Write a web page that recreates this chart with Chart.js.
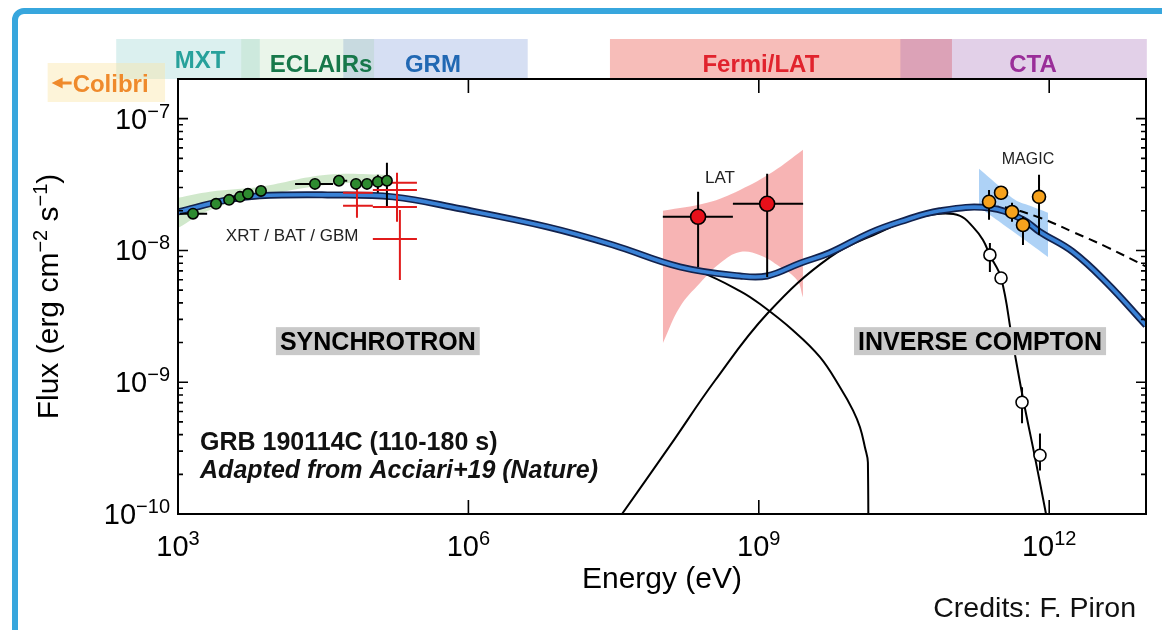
<!DOCTYPE html>
<html>
<head>
<meta charset="utf-8">
<script src="https://cdn.jsdelivr.net/npm/chart.js@4.4.1/dist/chart.umd.min.js"></script>
<style>
  html, body { margin: 0; padding: 0; background: #fff; }
  #wrap { position: relative; width: 1162px; height: 630px; overflow: hidden; background: #fff; }
  #frame { position: absolute; left: 12px; top: 8px; width: 1220px; height: 720px;
           border: 6px solid #37a6dd; border-radius: 12px; box-sizing: border-box; }
  canvas { position: absolute; left: 0; top: 0; }
</style>
</head>
<body>
<div id="wrap"><div id="frame"></div><canvas id="sed" width="1162" height="630"></canvas></div>
<script>
// ---------------- data (energy in eV, flux in erg cm^-2 s^-1) ----------------

// instrument energy coverage shown above the plot
const bandNames = ['MXT', 'ECLAIRs', 'GRM', 'Fermi/LAT', 'CTA'];
const bandLo    = [2.3e2, 4.5e3, 5.1e4, 2.9e7, 2.9e10];
const bandHi    = [7.0e3, 1.06e5, 4.1e6, 9.9e10, 1.02e13];
const bandLabelE = [1.69e3, 3.0e4, 4.3e5, 1.05e9, 6.8e11];
const colibriLo = 45, colibriHi = 735;

// axis decades
const xTickExp = [3, 6, 9, 12];
const yTickExp = [-7, -8, -9, -10];

// total model (synchrotron + inverse Compton)
const modelE = [1e3, 3.2e3, 7.0e3, 3.5e4, 1.66e5, 8.2e5, 6.5e6, 3.12e7, 1.53e8, 6.4e8, 1.22e9,
                2.67e9, 5.4e9, 1.41e10, 2.88e10, 7.4e10, 2.44e11, 5.36e11, 8.03e11, 1.76e12,
                3.95e12, 1e13];
const modelF = [1.96e-8, 2.42e-8, 2.6e-8, 2.64e-8, 2.55e-8, 2.07e-8, 1.51e-8, 1.1e-8, 7.5e-9, 6.4e-9,
                6.4e-9, 8.0e-9, 9.6e-9, 1.36e-8, 1.65e-8, 2.0e-8, 2.1e-8, 1.71e-8, 1.38e-8, 9.75e-9,
                5.66e-9, 2.7e-9];

// synchrotron component
const syncE = [1e3, 3.2e3, 7.0e3, 3.5e4, 1.66e5, 8.2e5, 6.5e6, 3.12e7, 1.53e8, 2.47e8, 6.4e8, 1.03e9,
               2.25e9, 4.29e9, 6.9e9, 9.4e9, 1.11e10, 1.25e10, 1.34e10, 1.341e10];
const syncF = [1.96e-8, 2.42e-8, 2.6e-8, 2.64e-8, 2.55e-8, 2.07e-8, 1.51e-8, 1.09e-8, 7.3e-9, 6.87e-9,
               4.92e-9, 3.92e-9, 2.48e-9, 1.55e-9, 9.16e-10, 6.12e-10, 4.55e-10, 3.2e-10, 2.46e-10, 1e-11];

// inverse Compton component
const icE = [2.29e7, 3.86e7, 1.21e8, 3.53e8, 1.24e9, 5.44e9, 1.79e10, 3.65e10, 7.45e10, 1.2e11, 1.63e11,
             2.07e11, 2.44e11, 3.18e11, 4.13e11, 5.36e11, 7.13e11, 9.27e11, 1.02e12];
const icF = [5.8e-11, 1.0e-10, 3.3e-10, 1.03e-9, 3.35e-9, 8.9e-9, 1.38e-8, 1.71e-8, 1.9e-8, 1.83e-8, 1.51e-8,
             1.2e-8, 9.2e-9, 6.2e-9, 2.16e-9, 7.55e-10, 2.69e-10, 1.0e-10, 6.9e-11];

// intrinsic model without EBL absorption
const intrE = [2.44e11, 3.33e11, 8.03e11, 1.76e12, 3.95e12, 1.02e13];
const intrF = [2.1e-8, 2.14e-8, 1.77e-8, 1.38e-8, 1.06e-8, 7.5e-9];

// XRT spectral band
const xrtBandE  = [1e3, 2.14e3, 7.0e3, 3.46e4, 1.55e5];
const xrtBandHi = [2.51e-8, 2.79e-8, 3.04e-8, 3.75e-8, 3.75e-8];
const xrtBandLo = [1.48e-8, 2.03e-8, 2.55e-8, 3.15e-8, 3.32e-8];

// XRT points
const xrtE   = [1.43e3, 2.47e3, 3.37e3, 4.37e3, 5.28e3, 7.2e3, 2.6e4, 4.6e4, 6.9e4, 8.96e4, 1.16e5, 1.44e5];
const xrtF   = [1.9e-8, 2.26e-8, 2.42e-8, 2.55e-8, 2.69e-8, 2.83e-8, 3.2e-8, 3.38e-8, 3.2e-8, 3.2e-8, 3.32e-8, 3.38e-8];
const xrtElo = [1.05e3, null, null, null, null, null, 1.62e4, 4.0e4, null, null, null, null];
const xrtEhi = [2.0e3, null, null, null, null, null, 4.0e4, 5.6e4, null, null, null, null];
const xrtFlo = [null, null, null, null, null, null, null, null, null, null, 2.74e-8, 2.14e-8];
const xrtFhi = [null, null, null, null, null, null, null, null, null, null, 3.75e-8, 4.63e-8];

// BAT / GBM points
const batE   = [7.06e4, 7.06e4, 1.83e5, 1.83e5, 1.83e5, 1.96e5];
const batF   = [2.74e-8, 2.18e-8, 3.26e-8, 2.88e-8, 2.14e-8, 1.22e-8];
const batElo = [5.07e4, 5.07e4, 1.16e5, 1.03e5, 1.03e5, 1.03e5];
const batEhi = [1.03e5, 1.03e5, 2.94e5, 2.94e5, 2.94e5, 2.94e5];
const batFlo = [2.30e-8, 1.77e-8, 2.79e-8, 2.22e-8, 1.65e-8, 5.97e-9];
const batFhi = [3.04e-8, 2.6e-8, 3.88e-8, 3.43e-8, 2.64e-8, 2.03e-8];

// Fermi-LAT points and butterfly
const latE   = [2.36e8, 1.22e9];
const latF   = [1.80e-8, 2.26e-8];
const latElo = [1.02e8, 5.4e8];
const latEhi = [5.4e8, 2.87e9];
const latFlo = [7.5e-9, 6.3e-9];
const latFhi = [2.79e-8, 3.82e-8];
const latBowUpE = [1.02e8, 2.92e8, 6.4e8, 1.4e9, 2.86e9];
const latBowUpF = [2.0e-8, 2.3e-8, 2.88e-8, 3.95e-8, 5.8e-8];
const latBowLoE = [1.02e8, 1.53e8, 2.47e8, 3.97e8, 6.4e8, 1.03e9, 1.66e9, 2.48e9, 2.86e9];
const latBowLoF = [1.98e-9, 3.72e-9, 5.66e-9, 8.0e-9, 9.75e-9, 9.2e-9, 7.5e-9, 5.97e-9, 4.42e-9];

// MAGIC points (EBL-corrected), butterfly, and observed points
const magE   = [2.39e11, 3.18e11, 4.13e11, 5.36e11, 7.85e11];
const magF   = [2.34e-8, 2.74e-8, 1.96e-8, 1.56e-8, 2.55e-8];
const magFlo = [1.71e-8, 2.42e-8, 1.65e-8, 1.1e-8, 1.31e-8];
const magFhi = [2.88e-8, 3.04e-8, 2.3e-8, 1.8e-8, 3.75e-8];
const magBowUpE = [1.88e11, 3.1e11, 4.43e11, 6.34e11, 9.72e11];
const magBowUpF = [4.17e-8, 3.04e-8, 2.42e-8, 2.18e-8, 1.93e-8];
const magBowLoE = [1.88e11, 4.13e11, 9.72e11];
const magBowLoF = [2.14e-8, 1.41e-8, 8.93e-9];
const obsE   = [2.44e11, 3.18e11, 5.24e11, 8.03e11];
const obsF   = [9.25e-9, 6.18e-9, 7.05e-10, 2.79e-10];
const obsFlo = [6.87e-9, null, 4.88e-10, 2.14e-10];
const obsFhi = [1.14e-8, null, 9.16e-10, 4.09e-10];

// ---------------- helpers ----------------
const FONT = '"Liberation Sans", Arial, sans-serif';
const pts = (E, F) => E.map((e, i) => ({ x: e, y: F[i] }));

// error bars as one polyline broken by gaps
function errSegs(E, F, Elo, Ehi, Flo, Fhi) {
  const out = [];
  E.forEach((e, i) => {
    if (Elo && Elo[i] != null) out.push({ x: Elo[i], y: F[i] }, { x: Ehi[i], y: F[i] }, { x: Ehi[i], y: null });
    if (Flo && Flo[i] != null) out.push({ x: e, y: Flo[i] }, { x: e, y: Fhi[i] }, { x: e, y: null });
  });
  return out;
}

function richText(ctx, parts, x, y, align, big, small, rise, weight) {
  const w8 = weight ? weight + ' ' : '';
  let w = 0;
  for (const [t, sup] of parts) { ctx.font = w8 + (sup ? small : big) + 'px ' + FONT; w += ctx.measureText(t).width; }
  let cx = align === 'right' ? x - w : align === 'center' ? x - w / 2 : x;
  ctx.textAlign = 'left';
  ctx.textBaseline = 'alphabetic';
  for (const [t, sup] of parts) {
    ctx.font = w8 + (sup ? small : big) + 'px ' + FONT;
    ctx.fillText(t, cx, sup ? y - rise : y);
    cx += ctx.measureText(t).width;
  }
}
const expStr = e => (e < 0 ? '\u2212' + (-e) : String(e));

const bandStyle = {
  'MXT':       { fill: 'rgba(90,185,180,0.22)', text: '#27a19b', dy: -4 },
  'ECLAIRs':   { fill: 'rgba(140,200,140,0.18)', text: '#17784a', dy: 0 },
  'GRM':       { fill: 'rgba(120,150,215,0.30)', text: '#2168b3', dy: 0 },
  'Fermi/LAT': { fill: 'rgba(235,90,80,0.40)', text: '#e1232d', dy: 0 },
  'CTA':       { fill: 'rgba(160,100,180,0.30)', text: '#9a2e99', dy: 0 }
};
const bandDrawOrder = ['MXT', 'GRM', 'ECLAIRs', 'Fermi/LAT', 'CTA'];

// ---------------- decorations drawn on the chart's scales ----------------
const decor = {
  id: 'decor',
  beforeDatasetsDraw(chart) {
    const { ctx, scales: { x } } = chart;
    const a = chart.chartArea;
    ctx.save();
    // instrument bands
    for (const name of bandDrawOrder) {
      const i = bandNames.indexOf(name);
      const x0 = x.getPixelForValue(bandLo[i]);
      const x1 = Math.min(x.getPixelForValue(bandHi[i]), a.right + 1);
      ctx.fillStyle = bandStyle[name].fill;
      ctx.fillRect(x0, a.top - 40, x1 - x0, 40);
    }
    // Colibri box
    const c0 = x.getPixelForValue(colibriLo), c1 = x.getPixelForValue(colibriHi);
    ctx.fillStyle = 'rgba(250,228,160,0.40)';
    ctx.fillRect(c0, a.top - 16, c1 - c0, 39);
    // band labels
    ctx.textAlign = 'center';
    ctx.textBaseline = 'alphabetic';
    ctx.font = 'bold 24px ' + FONT;
    bandNames.forEach((n, i) => {
      ctx.fillStyle = bandStyle[n].text;
      ctx.fillText(n, x.getPixelForValue(bandLabelE[i]), a.top - 7 + bandStyle[n].dy);
    });
    // Colibri label with arrow
    ctx.fillStyle = '#ef8a2c';
    ctx.strokeStyle = '#ef8a2c';
    const ay = a.top + 4, ax = c0 + 4;
    ctx.beginPath(); ctx.moveTo(ax, ay); ctx.lineTo(ax + 11, ay - 5.5); ctx.lineTo(ax + 11, ay + 5.5); ctx.closePath(); ctx.fill();
    ctx.lineWidth = 3; ctx.beginPath(); ctx.moveTo(ax + 10, ay); ctx.lineTo(ax + 20, ay); ctx.stroke();
    ctx.textAlign = 'left';
    ctx.font = 'bold 24px ' + FONT;
    ctx.fillText('Colibri', ax + 21, ay + 9);
    ctx.restore();
  },
  afterDatasetsDraw(chart) {
    const { ctx, scales: { x, y } } = chart;
    const a = chart.chartArea;
    ctx.save();
    // frame
    ctx.strokeStyle = '#000';
    ctx.lineWidth = 2;
    ctx.strokeRect(a.left, a.top, a.right - a.left, a.bottom - a.top);
    // y ticks (major + minor, inward, both sides)
    ctx.lineWidth = 1.6;
    ctx.beginPath();
    for (let e = -10; e <= -7; e++) {
      for (let m = 1; m <= 9; m++) {
        const v = m * Math.pow(10, e);
        if (v > y.max * 1.0001 || v < y.min * 0.9999) continue;
        const py = y.getPixelForValue(v);
        const len = m === 1 ? 10 : 5;
        ctx.moveTo(a.left, py); ctx.lineTo(a.left + len, py);
        ctx.moveTo(a.right, py); ctx.lineTo(a.right - len, py);
      }
    }
    // x ticks (inward, top and bottom)
    for (const e of xTickExp) {
      const px = x.getPixelForValue(Math.pow(10, e));
      ctx.moveTo(px, a.bottom); ctx.lineTo(px, a.bottom - 14);
      ctx.moveTo(px, a.top); ctx.lineTo(px, a.top + 14);
    }
    ctx.stroke();

    // tick labels
    ctx.fillStyle = '#000';
    for (const e of yTickExp) {
      const py = y.getPixelForValue(Math.pow(10, e));
      richText(ctx, [['10', false], [expStr(e), true]], a.left - 8, py + 10, 'right', 29, 20, 11);
    }
    for (const e of xTickExp) {
      const px = x.getPixelForValue(Math.pow(10, e));
      richText(ctx, [['10', false], [expStr(e), true]], px, a.bottom + 42, 'center', 29, 20, 11);
    }

    // axis titles
    richText(ctx, [['Energy (eV)', false]], (a.left + a.right) / 2, a.bottom + 74, 'center', 30, 20, 0);
    ctx.save();
    ctx.translate(58, (a.top + a.bottom) / 2);
    ctx.rotate(-Math.PI / 2);
    richText(ctx, [['Flux (erg cm', false], ['\u22122', true], [' s', false], ['\u22121', true], [')', false]],
             0, 0, 'center', 30, 20, 11);
    ctx.restore();

    // component labels on grey boxes
    const boxLabel = (txt, E, F) => {
      const cx = x.getPixelForValue(E), cy = y.getPixelForValue(F);
      ctx.font = 'bold 25px ' + FONT;
      const w = ctx.measureText(txt).width + 8;
      ctx.fillStyle = '#c9c9c9';
      ctx.fillRect(cx - w / 2, cy - 14, w, 28);
      ctx.fillStyle = '#000';
      ctx.textAlign = 'center';
      ctx.textBaseline = 'alphabetic';
      ctx.fillText(txt, cx, cy + 9);
    };
    boxLabel('SYNCHROTRON', 1.16e5, 2.05e-9);
    boxLabel('INVERSE COMPTON', 1.93e11, 2.05e-9);

    // instrument labels next to the data
    const small = (txt, E, F, size) => {
      ctx.font = size + 'px ' + FONT;
      ctx.fillStyle = '#222';
      ctx.textAlign = 'center';
      ctx.textBaseline = 'middle';
      ctx.fillText(txt, x.getPixelForValue(E), y.getPixelForValue(F));
    };
    small('XRT / BAT / GBM', 1.51e4, 1.27e-8, 17);
    small('LAT', 3.97e8, 3.5e-8, 17);
    small('MAGIC', 6.04e11, 4.88e-8, 16);

    // event caption
    ctx.textAlign = 'left';
    ctx.textBaseline = 'alphabetic';
    ctx.fillStyle = '#111';
    const gx = x.getPixelForValue(1.69e3);
    ctx.font = 'bold 25px ' + FONT;
    ctx.fillText('GRB 190114C (110-180 s)', gx, y.getPixelForValue(3.04e-10));
    ctx.font = 'italic bold 25px ' + FONT;
    ctx.fillText('Adapted from Acciari+19 (Nature)', gx, y.getPixelForValue(1.86e-10));

    // credits
    ctx.fillStyle = '#111';
    ctx.font = '28.5px ' + FONT;
    ctx.textAlign = 'right';
    ctx.fillText('Credits: F. Piron', 1136, 617);
    ctx.restore();
  }
};

// ---------------- datasets ----------------
const hidden = 'rgba(0,0,0,0)';
const areaDs = (data, fillTarget, color, order) => ({
  data, showLine: true, pointRadius: 0, borderColor: hidden, borderWidth: 1,
  backgroundColor: color, fill: fillTarget, tension: 0.4, order
});
const curveDs = (data, color, width, order, dash) => ({
  data, showLine: true, pointRadius: 0, borderColor: color, borderWidth: width,
  borderDash: dash || [], tension: 0.4, fill: false, order,
  borderCapStyle: 'butt', borderJoinStyle: 'round'
});
const errDs = (data, color, order) => ({
  data, showLine: true, pointRadius: 0, borderColor: color, borderWidth: 2,
  spanGaps: false, tension: 0, fill: false, order
});
const markDs = (data, fill, r, order) => ({
  data, showLine: false, pointRadius: r, pointBackgroundColor: fill, pointBorderColor: '#000',
  pointBorderWidth: 1.6, order
});

const datasets = [
  /*0*/ areaDs(pts(xrtBandE, xrtBandLo), false, hidden, 100),
  /*1*/ areaDs(pts(xrtBandE, xrtBandHi), 0, 'rgba(150,205,140,0.45)', 99),
  /*2*/ areaDs(pts(latBowLoE, latBowLoF), false, hidden, 100),
  /*3*/ areaDs(pts(latBowUpE, latBowUpF), 2, 'rgba(242,125,125,0.58)', 98),
  /*4*/ areaDs(pts(magBowLoE, magBowLoF), false, hidden, 100),
  /*5*/ areaDs(pts(magBowUpE, magBowUpF), 4, 'rgba(125,182,240,0.62)', 97),
  /*6*/ curveDs(pts(icE, icF), '#000', 2, 60),
  /*7*/ curveDs(pts(syncE, syncF), '#000', 2, 60),
  /*8*/ curveDs(pts(intrE, intrF), '#000', 2, 55, [9, 6]),
  /*9*/ curveDs(pts(modelE, modelF), '#12224d', 7, 50),
  /*10*/ curveDs(pts(modelE, modelF), '#3a82d6', 3.6, 49),
  /*11*/ errDs(errSegs(batE, batF, batElo, batEhi, batFlo, batFhi), '#e11b1b', 30),
  /*12*/ errDs(errSegs(xrtE, xrtF, xrtElo, xrtEhi, xrtFlo, xrtFhi), '#000', 30),
  /*13*/ errDs(errSegs(latE, latF, latElo, latEhi, latFlo, latFhi), '#000', 30),
  /*14*/ errDs(errSegs(magE, magF, null, null, magFlo, magFhi), '#000', 30),
  /*15*/ errDs(errSegs(obsE, obsF, null, null, obsFlo, obsFhi), '#000', 30),
  /*16*/ markDs(pts(xrtE, xrtF), '#2e8b30', 5.2, 10),
  /*17*/ markDs(pts(latE, latF), '#e8101a', 7.5, 10),
  /*18*/ markDs(pts(magE, magF), '#f6a21d', 6.5, 10),
  /*19*/ markDs(pts(obsE, obsF), '#ffffff', 6, 10)
];

new Chart(document.getElementById('sed'), {
  type: 'scatter',
  data: { datasets },
  options: {
    responsive: false,
    devicePixelRatio: 1,
    animation: false,
    events: [],
    layout: { padding: { left: 178, right: 16, top: 79, bottom: 116 } },
    plugins: { legend: { display: false }, tooltip: { enabled: false }, title: { display: false } },
    scales: {
      x: { type: 'logarithmic', min: 1e3, max: 1e13, display: false },
      y: { type: 'logarithmic', min: 1e-10, max: 2e-7, display: false }
    }
  },
  plugins: [decor]
});
</script>
</body>
</html>
